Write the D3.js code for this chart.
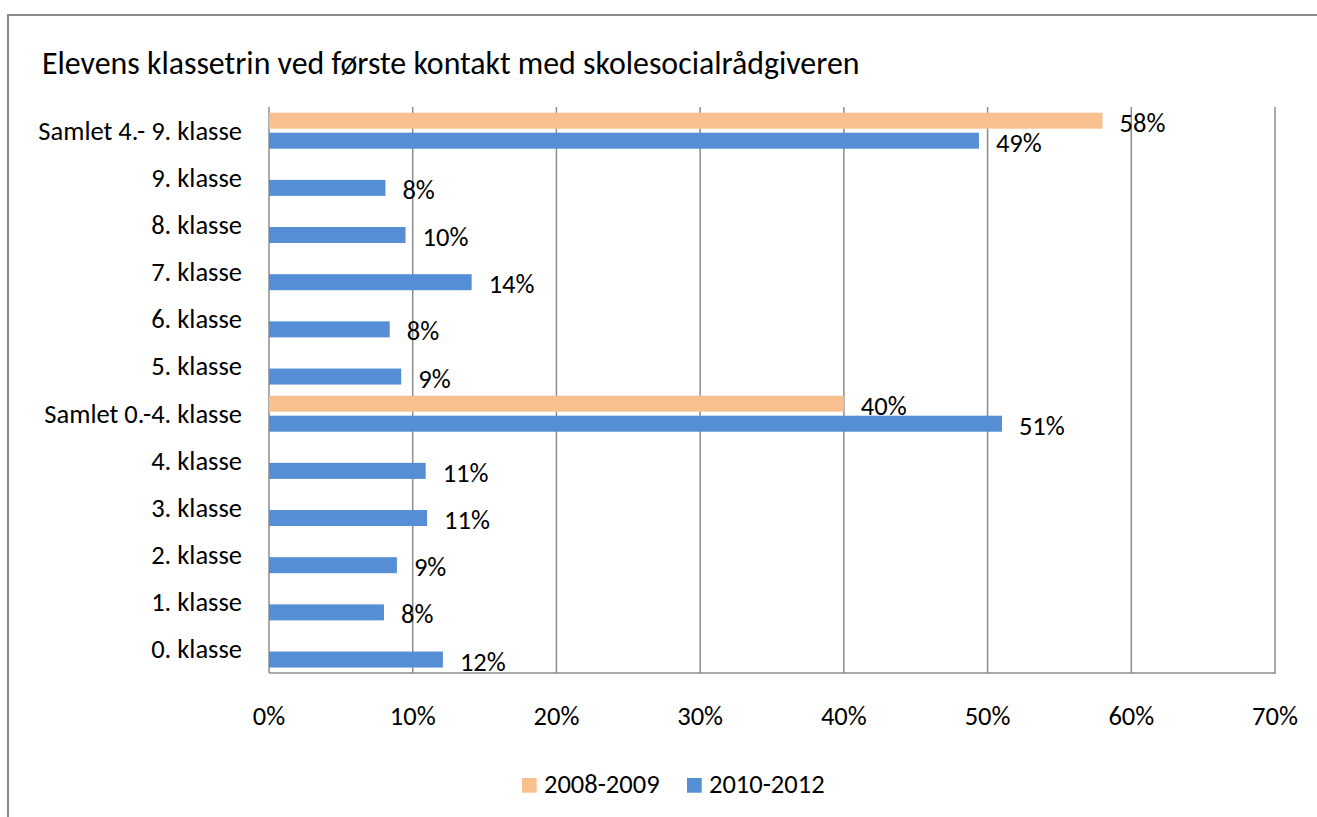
<!DOCTYPE html>
<html>
<head>
<meta charset="utf-8">
<script src="https://cdn.jsdelivr.net/npm/d3@7"></script>
<style>
  html, body { margin: 0; padding: 0; background: #fff; }
  svg { display: block; }
  text { font-family: Calibri, Carlito, "Noto Sans", sans-serif; fill: #000; }
</style>
</head>
<body>
<div id="chart"></div>
<script>
// Data, top row first
const categories = [
    "Samlet 4.- 9. klasse", "9. klasse", "8. klasse", "7. klasse", "6. klasse",
    "5. klasse", "Samlet 0.-4. klasse", "4. klasse", "3. klasse", "2. klasse",
    "1. klasse", "0. klasse"
];
const seriesNames = ["2008-2009", "2010-2012"];
const values2008 = [58.0, null, null, null, null, null, 40.0, null, null, null, null, null];
const values2010 = [49.4, 8.1, 9.5, 14.1, 8.4, 9.2, 51.0, 10.9, 11.0, 8.9, 8.0, 12.1];
const xTicks = [0, 10, 20, 30, 40, 50, 60, 70];
const title = "Elevens klassetrin ved første kontakt med skolesocialrådgiveren";

const W = 1317, H = 817;
const colors = { "2008-2009": "#f9c08f", "2010-2012": "#558ed5" };
const gridColor = "#8c8c8c";
const fontSize = 26.5;

const svg = d3.select("#chart").append("svg")
    .attr("width", W).attr("height", H);

// outer chart frame (right/bottom edges are off the picture)
svg.append("rect")
    .attr("x", 8).attr("y", 15)
    .attr("width", W + 20).attr("height", H + 20)
    .attr("fill", "#fff")
    .attr("stroke", "#8a8a8a")
    .attr("stroke-width", 2);

// title, scaled to the reference width
const titleText = svg.append("text")
    .attr("x", 42).attr("y", 74)
    .style("font-size", "24px")
    .text(title);
const tw = titleText.node().getComputedTextLength();
titleText.style("font-size", (24 * 818 / tw) + "px");

const plot = { left: 269, right: 1275, top: 107, bottom: 673 };

const x = d3.scaleLinear().domain([0, 70]).range([plot.left, plot.right]);
const y = d3.scaleBand().domain(categories).range([plot.top, plot.bottom]);
const ySub = d3.scaleBand().domain(seriesNames)
    .range([5.7, 41.7]).paddingInner(0.2);

// vertical gridlines
svg.append("g").selectAll("line")
    .data(xTicks).enter().append("line")
    .attr("x1", d => x(d)).attr("x2", d => x(d))
    .attr("y1", plot.top).attr("y2", plot.bottom)
    .attr("stroke", gridColor)
    .attr("stroke-width", 1.5);

// bottom axis line
svg.append("line")
    .attr("x1", plot.left).attr("x2", plot.right + 1)
    .attr("y1", plot.bottom).attr("y2", plot.bottom)
    .attr("stroke", gridColor)
    .attr("stroke-width", 1.5);

// x tick labels
svg.append("g").selectAll("text")
    .data(xTicks).enter().append("text")
    .attr("x", d => x(d))
    .attr("y", 725)
    .attr("text-anchor", "middle")
    .style("font-size", fontSize + "px")
    .text(d => d + "%");

// category labels
svg.append("g").selectAll("text")
    .data(categories).enter().append("text")
    .attr("x", 242)
    .attr("y", d => y(d) + y.bandwidth() / 2 + 9)
    .attr("text-anchor", "end")
    .style("font-size", fontSize + "px")
    .text(d => d);

// bars + labels
const rows = [];
categories.forEach((c, i) => {
    if (values2008[i] != null) rows.push({ cat: c, series: "2008-2009", value: values2008[i] });
    if (values2010[i] != null) rows.push({ cat: c, series: "2010-2012", value: values2010[i] });
});

svg.append("g").selectAll("rect")
    .data(rows).enter().append("rect")
    .attr("x", x(0))
    .attr("y", d => y(d.cat) + ySub(d.series))
    .attr("width", d => x(d.value) - x(0))
    .attr("height", ySub.bandwidth())
    .attr("fill", d => colors[d.series]);

svg.append("g").selectAll("text")
    .data(rows).enter().append("text")
    .attr("x", d => x(d.value) + 17)
    .attr("y", d => y(d.cat) + ySub(d.series) + ySub.bandwidth() / 2 + 11)
    .style("font-size", fontSize + "px")
    .text(d => Math.round(d.value) + "%");

// legend
const legendX = [522, 687];
const legend = svg.append("g").selectAll("g")
    .data(seriesNames).enter().append("g")
    .attr("transform", (d, i) => `translate(${legendX[i]},778)`);
legend.append("rect")
    .attr("width", 14.7).attr("height", 14.7)
    .attr("fill", d => colors[d]);
legend.append("text")
    .attr("x", 22).attr("y", 15)
    .style("font-size", fontSize + "px")
    .text(d => d);
</script>
</body>
</html>
